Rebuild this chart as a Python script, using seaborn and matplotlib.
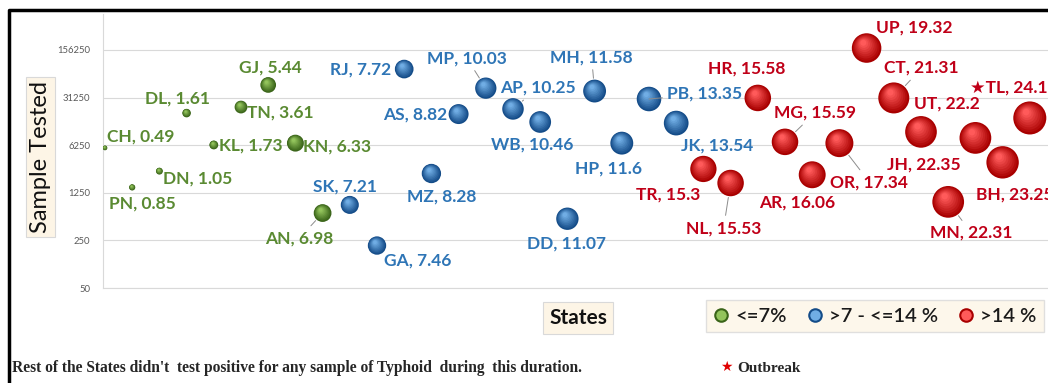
import numpy as np
import pandas as pd
import matplotlib
matplotlib.use('Agg')
import matplotlib.pyplot as plt
from matplotlib.lines import Line2D
from matplotlib.colors import to_rgb
import seaborn as sns

# States ordered by typhoid positivity (%), samples tested
states = ['CH', 'PN', 'DN', 'DL', 'KL', 'TN', 'GJ', 'KN', 'AN', 'SK', 'GA', 'RJ',
          'MZ', 'AS', 'MP', 'AP', 'WB', 'DD', 'MH', 'HP', 'PB', 'JK', 'TR', 'NL',
          'HR', 'MG', 'AR', 'OR', 'UP', 'CT', 'UT', 'MN', 'JH', 'BH', 'TL']
positivity = [0.49, 0.85, 1.05, 1.61, 1.73, 3.61, 5.44, 6.33, 6.98, 7.21, 7.46, 7.72,
              8.28, 8.82, 10.03, 10.25, 10.46, 11.07, 11.58, 11.6, 13.35, 13.54, 15.3, 15.53,
              15.58, 15.59, 16.06, 17.34, 19.32, 21.31, 22.2, 22.31, 22.35, 23.25, 24.19]
samples_tested = [5700, 1500, 2600, 18500, 6300, 22700, 47900, 6700, 630, 830, 210, 82000,
                  2400, 17900, 43000, 21300, 13700, 520, 39000, 6700, 29800, 13200, 2800, 1740,
                  30900, 7000, 2300, 6700, 167000, 30900, 9800, 920, 8000, 3500, 15700]
outbreak_states = ['TL']
band_names = ['<=7%', '>7 - <=14 %', '>14 %']
y_ticks = [50, 250, 1250, 6250, 31250, 156250]

# label placement (pixel offsets from bubble centre, y up), leader line flag
label_pos = {
    'CH': (2, 11, 'left', 0), 'PN': (10, -16, 'center', 0), 'DN': (4, -7, 'left', 0),
    'DL': (-9, 15, 'center', 0), 'KL': (5, -1, 'left', 0), 'TN': (6, -5, 'left', 0),
    'GJ': (2, 17, 'center', 0), 'KN': (8, -3, 'left', 0), 'AN': (-23, -25, 'center', 1),
    'SK': (-5, 18, 'center', 0), 'GA': (7, -15, 'left', 0), 'RJ': (-13, 0, 'right', 0),
    'MZ': (10, -23, 'center', 0), 'AS': (-11, 0, 'right', 0), 'MP': (-19, 30, 'center', 1),
    'AP': (25, 21, 'center', 1), 'WB': (-8, -23, 'center', 0), 'DD': (-1, -25, 'center', 0),
    'MH': (-3, 34, 'center', 1), 'HP': (-13, -25, 'center', 0), 'PB': (18, 5, 'left', 1),
    'JK': (41, -22, 'center', 0), 'TR': (-35, -26, 'center', 0), 'NL': (-7, -45, 'center', 1),
    'HR': (-11, 29, 'center', 0), 'MG': (30, 29, 'center', 1), 'AR': (-15, -28, 'center', 0),
    'OR': (30, -39, 'center', 1), 'UP': (48, 21, 'center', 0), 'CT': (28, 30, 'center', 1),
    'UT': (26, 28, 'center', 0), 'MN': (23, -31, 'center', 1), 'JH': (-52, -27, 'center', 0),
    'BH': (-27, -32, 'left', 0), 'TL': (-60, 30, 'left', 0),
}

df = pd.DataFrame({'state': states, 'pct': positivity, 'tested': samples_tested})
df['rank'] = np.arange(1, len(df) + 1)
df['band'] = pd.cut(df['pct'], [0, 7, 14, 100], labels=band_names)

dark = {'<=7%': '#3a6419', '>7 - <=14 %': '#144c88', '>14 %': '#a80000'}
light = {'<=7%': '#93c45c', '>7 - <=14 %': '#70ade4', '>14 %': '#ff5a5a'}
text_col = {'<=7%': '#5a8a32', '>7 - <=14 %': '#2e75b6', '>14 %': '#c00018'}

W, H, DPI = 1048, 383, 100
fig = plt.figure(figsize=(W / DPI, H / DPI), dpi=DPI)
sns.set_style('white')
plt.rcParams['font.family'] = ['Lato', 'DejaVu Sans']

ax_l, ax_r, ax_b, ax_t = 103, 1100, 288, 14
ax = fig.add_axes([ax_l / W, 1 - ax_b / H, (ax_r - ax_l) / W, (ax_b - ax_t) / H])
ax.set_yscale('log', base=5)
ax.set_ylim(50, 50 * 5 ** ((ax_b - ax_t) / 47.6))
ax.set_xlim(1 - 2 / 27.2, 1 + (ax_r - 105) / 27.2)

# bubble area proportional to positivity
k = 23.4
pmin, pmax = min(positivity), max(positivity)
sns.scatterplot(data=df, x='rank', y='tested', hue='band', palette=dark,
                size='pct', sizes=(k * pmin, k * pmax), size_norm=(pmin, pmax),
                linewidth=0, legend=False, ax=ax, zorder=3)

# shading layers for a sphere look
pts = ax.transData.transform(np.column_stack([df['rank'], df['tested']]))
r_px = np.sqrt(k * df['pct'].values) / 2 * DPI / 72
n = 9
for i in range(1, n):
    f = 1 - 0.9 * i / n
    t = i / (n - 1)
    shift = (1 - f) * r_px * 0.55
    p = pts + np.column_stack([-shift * 0.5, shift * 0.8])
    xy = ax.transData.inverted().transform(p)
    cols = [tuple(np.array(to_rgb(dark[b])) * (1 - t) + np.array(to_rgb(light[b])) * t)
            for b in df['band']]
    ax.scatter(xy[:, 0], xy[:, 1], s=k * df['pct'].values * f ** 2, c=cols,
               linewidths=0, zorder=3 + i * 0.01)

# labels
for _, row in df.iterrows():
    dx, dy, ha, leader = label_pos[row['state']]
    txt = f"{row['state']}, {row['pct']:g}"
    if row['state'] in outbreak_states:
        txt = '\u2605' + txt
    r = np.sqrt(k * row['pct']) / 2
    ax.annotate(txt, (row['rank'], row['tested']), xytext=(dx, dy),
                textcoords='offset pixels', ha=ha, va='center',
                fontsize=12.5, fontweight='bold', color=text_col[row['band']],
                family=['Lato', 'DejaVu Sans'], zorder=5, annotation_clip=False,
                arrowprops=dict(arrowstyle='-', color='#8c8c8c', lw=0.7,
                                shrinkA=1, shrinkB=r + 1) if leader else None)

ax.set_yticks(y_ticks)
ax.set_yticklabels([str(v) for v in y_ticks], fontsize=6.8, color='#595959')
ax.minorticks_off()
ax.tick_params(axis='y', length=0, pad=9)
ax.set_xticks([])
ax.grid(axis='y', color='#d9d9d9', lw=0.8)
ax.set_axisbelow(True)
for s in ['top', 'right']:
    ax.spines[s].set_visible(False)
for s in ['left', 'bottom']:
    ax.spines[s].set_color('#d9d9d9')
    ax.spines[s].set_linewidth(0.8)
ax.set_xlabel('')
ax.set_ylabel('Sample Tested', fontsize=17, color='#111111',
              bbox=dict(boxstyle='square,pad=0.15', fc='#fdf5e6', ec='#d9d9d9', lw=0.8))
ax.yaxis.set_label_coords((51 - ax_l) / (ax_r - ax_l), (ax_b - 157) / (ax_b - ax_t))

fig.text(578 / W, 1 - 318 / H, 'States', fontsize=15, fontweight='bold', color='#111111',
         ha='center', va='center',
         bbox=dict(boxstyle='square,pad=0.3', fc='#fdf5e6', ec='#d9d9d9', lw=0.8))

handles = [Line2D([], [], ls='', marker='o', ms=9, mfc=light[b], mec=dark[b], mew=1.5)
           for b in band_names]
leg = fig.legend(handles, band_names, loc='center', bbox_to_anchor=(875 / W, 1 - 316 / H),
                 ncol=3, frameon=True, fontsize=14.5, handlelength=0.8, handletextpad=0.3,
                 columnspacing=1.0, borderpad=0.35, fancybox=False,
                 facecolor='#fdf5e6', edgecolor='#d9d9d9')
for t in leg.get_texts():
    t.set_fontweight('semibold')
    t.set_color('#1a1a1a')

fig.text(12 / W, 1 - 368 / H,
         "Rest of the States didn't  test positive for any sample of Typhoid  during  this duration.",
         family='Liberation Serif', fontweight='bold', fontsize=11.2, va='center')
fig.text(720 / W, 1 - 367 / H, '\u2605', family='DejaVu Sans', color='#e00000',
         fontsize=10, va='center')
fig.text(737 / W, 1 - 368 / H, 'Outbreak', family='Liberation Serif', fontweight='bold',
         fontsize=11, va='center')

# black frame on the left and top
fig.add_artist(Line2D([9 / W, 9 / W, 1], [0, 1 - 10 / H, 1 - 10 / H],
                      color='black', lw=2.5, transform=fig.transFigure))

fig.savefig('out.png', dpi=DPI)
